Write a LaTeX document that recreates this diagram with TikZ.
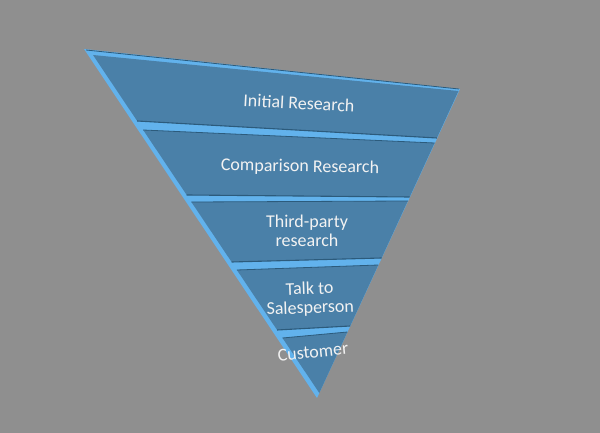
\documentclass[tikz,border=0pt]{standalone}
\usepackage{fontspec}
\setmainfont{Carlito}
\usepackage{tikz}

\definecolor{bggrey}{HTML}{8F8F8F}
\definecolor{bandface}{HTML}{4A80A8}
\definecolor{bandbevel}{HTML}{62B2EC}
\definecolor{bandedge}{HTML}{2C5B7C}

\tikzset{
  band/.style={fill=bandface},
  edge/.style={draw=bandedge, line width=1.1pt},
  lbl/.style={text=white!95!black, align=center, font=\fontsize{18}{19}\selectfont}
}

\begin{document}
\begin{tikzpicture}[x=1pt, y=-1pt]
  % Background
  \fill[bggrey] (0,0) rectangle (600,433);
  \useasboundingbox (0,0) rectangle (600,433);

  % Bevel (outer triangle)
  \fill[bandbevel] (84,49) -- (460,89) -- (317,398) -- cycle;
  \draw[edge, line width=0.8pt] (86,50) -- (459,89);

  % Band 1: Initial Research
  \fill[band] (93,55) -- (458.5,91) -- (436.9,138) -- (137.2,121) -- cycle;
  \draw[edge] (137.2,121) -- (436.9,138);
  \node[lbl, rotate=-3] (initial) at (299,103) {Initial Research};

  % Band 2: Comparison Research
  \fill[band] (143.2,130) -- (434.6,143) -- (409.7,197) -- (186.7,195) -- cycle;
  \draw[edge, line width=0.8pt] (143.2,130) -- (434.6,143);
  \draw[edge] (186.7,195) -- (409.7,197);
  \node[lbl, rotate=-1] (comparison) at (300,167) {Comparison Research};

  % Band 3: Third-party research
  \fill[band] (191.4,202) -- (407.8,201) -- (381.6,258) -- (231.6,262) -- cycle;
  \draw[edge, line width=0.8pt] (191.4,202) -- (407.8,201);
  \draw[edge] (231.6,262) -- (381.6,258);
  \node[lbl] (thirdparty) at (307,231) {Third-party\\research};

  % Band 4: Talk to Salesperson
  \fill[band] (236.9,270) -- (378.3,265) -- (350.2,326) -- (277.1,330) -- cycle;
  \draw[edge, line width=0.8pt] (236.9,270) -- (378.3,265);
  \draw[edge] (277.1,330) -- (350.2,326);
  \node[lbl, rotate=2] (salesperson) at (310,299) {Talk to\\Salesperson};

  % Band 5: Customer
  \fill[band] (282.5,338) -- (347.4,332) -- (319.3,393) -- cycle;
  \draw[edge, line width=0.8pt] (282.5,338) -- (347.4,332);
  \node[lbl, rotate=6] (customer) at (313,352) {Customer};
\end{tikzpicture}
\end{document}
